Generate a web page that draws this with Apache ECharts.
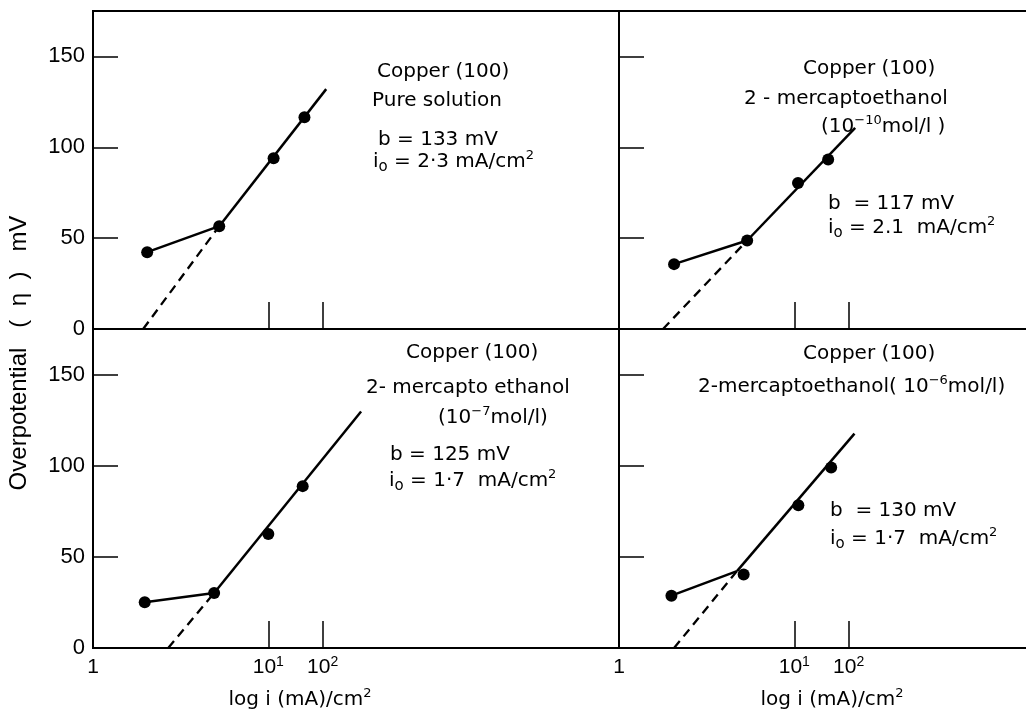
<!DOCTYPE html>
<html>
<head>
<meta charset="utf-8">
<script src="https://cdn.jsdelivr.net/npm/echarts@6/dist/echarts.min.js"></script>
<style>
html,body{margin:0;padding:0;background:#fff;}
#chart{width:1026px;height:717px;}
</style>
</head>
<body>
<div id="chart"></div>
<script>
// ---- axis ticks ----
const xTickPos = [0, 10, 13.1];
const xTickText = ['1', '10{sup|1}', '10{sup|2}'];
const xMax = 30;
const yTickVals = [0, 50, 100, 150];
const yMax = 175;

// ---- Top-left: pure solution ----
const tlX = [3.09, 7.2, 10.3, 12.06];
const tlY = [42.3, 56.6, 94.0, 116.5];
const tlFitX = [2.86, 7.2, 13.3];   // zero crossing, junction, end of fit
const tlFitY = [0, 56.6, 132];

// ---- Top-right: 1e-10 mol/l ----
const trX = [3.14, 7.31, 10.21, 11.93];
const trY = [35.7, 48.7, 80.4, 93.3];
const trFitX = [2.51, 7.31, 13.47];
const trFitY = [0, 48.7, 110.7];

// ---- Bottom-left: 1e-7 mol/l ----
const blX = [2.95, 6.91, 10.0, 11.96];
const blY = [25.1, 30.2, 62.6, 88.8];
const blFitX = [4.29, 6.91, 15.29];
const blFitY = [0, 30.2, 129.7];

// ---- Bottom-right: 1e-6 mol/l ----
const brX = [2.99, 7.11, 10.23, 12.1];
const brY = [28.7, 40.3, 78.3, 99.0];
const brFitX = [3.14, 6.73, 13.43];
const brFitY = [0, 42.2, 117.6];

const panels = [
  {x: tlX, y: tlY, fx: tlFitX, fy: tlFitY},
  {x: trX, y: trY, fx: trFitX, fy: trFitY},
  {x: blX, y: blY, fx: blFitX, fy: blFitY},
  {x: brX, y: brY, fx: brFitX, fy: brFitY}
];

const INK = '#000';

const grids = [
  {left: 93, top: 11, width: 526, height: 318},
  {left: 619, top: 11, width: 526, height: 318},
  {left: 93, top: 329, width: 526, height: 319},
  {left: 619, top: 329, width: 526, height: 319}
].map(g => Object.assign({show: true, borderColor: INK, borderWidth: 2, backgroundColor: 'transparent', containLabel: false, outerBoundsMode: 'none'}, g));

const axisFont = 'Liberation Sans, Arial, sans-serif';
const annFont = 'DejaVu Sans, sans-serif';

const xAxes = grids.map((g, i) => ({
  type: 'value', gridIndex: i, min: 0, max: xMax,
  splitLine: {show: false},
  axisLine: {show: true, onZero: false, lineStyle: {color: INK, width: 2}},
  axisTick: {show: true, inside: true, length: 27, customValues: xTickPos.filter(v => v > 0), lineStyle: {color: INK, width: 1.5}},
  axisLabel: {
    show: i >= 2, customValues: xTickPos, margin: 7,
    color: INK, fontFamily: axisFont, fontSize: 21, lineHeight: 24,
    formatter: v => { const k = xTickPos.findIndex(p => Math.abs(p - v) < 1e-6); return k >= 0 ? xTickText[k] : ''; },
    rich: {sup: {fontSize: 14, verticalAlign: 'top', lineHeight: 12, fontFamily: axisFont, color: INK}}
  }
}));

const yAxes = grids.map((g, i) => ({
  type: 'value', gridIndex: i, min: 0, max: yMax,
  splitLine: {show: false},
  axisLine: {show: true, onZero: false, lineStyle: {color: INK, width: 2}},
  axisTick: {show: true, inside: true, length: 25, customValues: yTickVals.filter(v => v > 0), lineStyle: {color: INK, width: 1.5}},
  axisLabel: {show: i % 2 === 0, customValues: yTickVals, margin: 8, color: INK, fontFamily: axisFont, fontSize: 22}
}));

const series = [];
panels.forEach((p, i) => {
  const base = {xAxisIndex: i, yAxisIndex: i, animation: false, silent: true};
  // low-current solid segment: first point to junction
  series.push(Object.assign({type: 'line', symbol: 'none', lineStyle: {color: INK, width: 2.5, opacity: 1},
    data: [[p.x[0], p.y[0]], [p.fx[1], p.fy[1]]]}, base));
  // Tafel fit, solid part
  series.push(Object.assign({type: 'line', symbol: 'none', lineStyle: {color: INK, width: 2.5, opacity: 1},
    data: [[p.fx[1], p.fy[1]], [p.fx[2], p.fy[2]]]}, base));
  // Tafel extrapolation, dashed
  series.push(Object.assign({type: 'line', symbol: 'none', lineStyle: {color: INK, width: 2.3, type: [9, 6], opacity: 1},
    data: [[p.fx[0], p.fy[0]], [p.fx[1], p.fy[1]]]}, base));
  // measured points
  series.push(Object.assign({type: 'scatter', symbol: 'circle', symbolSize: 12, itemStyle: {color: INK, opacity: 1},
    data: p.x.map((x, k) => [x, p.y[k]])}, base));
});

const rich = {
  sup: {fontSize: 13, verticalAlign: 'top', lineHeight: 12, fontFamily: annFont, fill: INK},
  sub: {fontSize: 15, verticalAlign: 'bottom', lineHeight: 16, fontFamily: annFont, fill: INK}
};
function txt(text, x, y, align, size) {
  return {type: 'text', x: x, y: y, silent: true,
    style: {text: text, fill: INK, font: (size || 20) + 'px ' + annFont, textAlign: align || 'left', textVerticalAlign: 'middle', lineHeight: 26, rich: rich}};
}

const graphics = [
  // top-left
  txt('Copper (100)', 377, 72),
  txt('Pure solution', 372, 101),
  txt('b = 133 mV', 378, 140),
  txt('i{sub|o} = 2·3 mA/cm{sup|2}', 373, 162),
  // top-right
  txt('Copper (100)', 803, 69),
  txt('2 - mercaptoethanol', 744, 99),
  txt('(10{sup|−10}mol/l )', 821, 127),
  txt('b  = 117 mV', 828, 204),
  txt('i{sub|o} = 2.1  mA/cm{sup|2}', 828, 228),
  // bottom-left
  txt('Copper (100)', 406, 353),
  txt('2- mercapto ethanol', 366, 388),
  txt('(10{sup|−7}mol/l)', 438, 418),
  txt('b = 125 mV', 390, 455),
  txt('i{sub|o} = 1·7  mA/cm{sup|2}', 389, 481),
  // bottom-right
  txt('Copper (100)', 803, 354),
  txt('2-mercaptoethanol( 10{sup|−6}mol/l)', 698, 387),
  txt('b  = 130 mV', 830, 511),
  txt('i{sub|o} = 1·7  mA/cm{sup|2}', 830, 539),
  // axis titles
  txt('log i (mA)/cm{sup|2}', 300, 700, 'center'),
  txt('log i (mA)/cm{sup|2}', 832, 700, 'center'),
  {type: 'text', x: 19, y: 353, rotation: Math.PI / 2, silent: true,
   style: {text: 'Overpotential   (  η  )   mV', fill: INK, font: '24px ' + axisFont, textAlign: 'center', textVerticalAlign: 'middle'}}
];

const chart = echarts.init(document.getElementById('chart'), null, {renderer: 'canvas'});
chart.setOption({
  backgroundColor: '#fff',
  animation: false,
  grid: grids,
  xAxis: xAxes,
  yAxis: yAxes,
  series: series,
  graphic: graphics
});
</script>
</body>
</html>
